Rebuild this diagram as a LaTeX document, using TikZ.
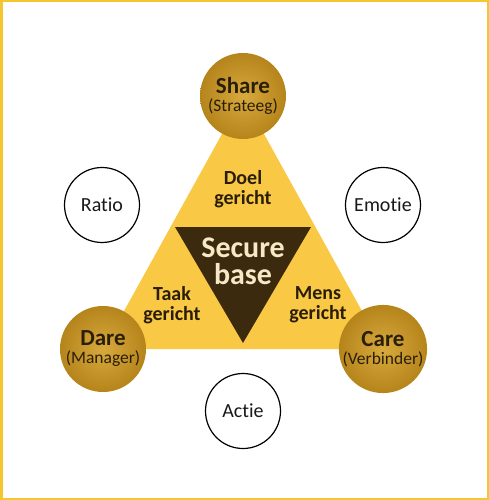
\documentclass[tikz,border=0pt]{standalone}
\usepackage{fontspec}
\setmainfont{Carlito}[Ligatures={NoCommon}]
\usetikzlibrary{positioning}

\definecolor{frameyellow}{HTML}{F5C62E}
\definecolor{triyellow}{HTML}{F9C844}
\definecolor{goldin}{HTML}{D8A93C}
\definecolor{goldout}{HTML}{B5851C}
\definecolor{darkbrown}{HTML}{3B2A0D}
\definecolor{cream}{HTML}{F6E9C6}
\definecolor{inktext}{HTML}{2A1E08}

\begin{document}
\begin{tikzpicture}[
  x=1pt, y=-1pt,
  gold/.style={circle, minimum size=86pt, inner sep=0pt, shading=radial, inner color=goldin, outer color=goldout, align=center, text=inktext, font=\fontsize{23}{18}\selectfont\bfseries},
  plain/.style={circle, draw=black, line width=1.2pt, fill=white, minimum size=75pt, inner sep=0pt, text=black!90, font=\fontsize{20}{22}\selectfont},
  tag/.style={align=center, text=inktext, inner sep=0pt, font=\fontsize{20}{20}\selectfont\bfseries},
  core/.style={align=center, text=cream, inner sep=0pt, font=\fontsize{30}{27}\selectfont\bfseries}
]
\useasboundingbox (0,0) rectangle (489,500);
\draw[frameyellow, line width=2.5pt] (1.25,1.25) rectangle (487.75,498.75);

% --- corner points ---
\coordinate (ptop)   at (243,96);
\coordinate (pleft)  at (103,349);
\coordinate (pright) at (383,349);
\coordinate (itl) at (175,227);
\coordinate (itr) at (311,227);
\coordinate (ibot) at (243,343);

% --- triangles ---
\fill[triyellow] (ptop) -- (pleft) -- (pright) -- cycle;
\fill[darkbrown] (itl) -- (itr) -- (ibot) -- cycle;

% --- gold circles ---
\node[gold] (share) at (ptop)   {Share\\{\fontsize{17.5}{18}\selectfont\mdseries(Strateeg)}};
\node[gold] (dare)  at (pleft)  {Dare\\{\fontsize{17.5}{18}\selectfont\mdseries(Manager)}};
\node[gold] (care)  at (pright) {Care\\{\fontsize{17.5}{18}\selectfont\mdseries(Verbinder)}};

% --- outer circles ---
\node[plain] (ratio)  at (102,205) {Ratio};
\node[plain] (emotie) at (383,205) {Emotie};
\node[plain] (actie)  at (243,411) {Actie};

% --- labels ---
\node[tag]  (doel)   at (243,189) {Doel\\gericht};
\node[tag]  (taak)   at (172,305) {Taak\\gericht};
\node[tag]  (mens)   at (318,305) {Mens\\gericht};
\node[core] (secure) at (243,261) {Secure\\base};
\end{tikzpicture}
\end{document}
